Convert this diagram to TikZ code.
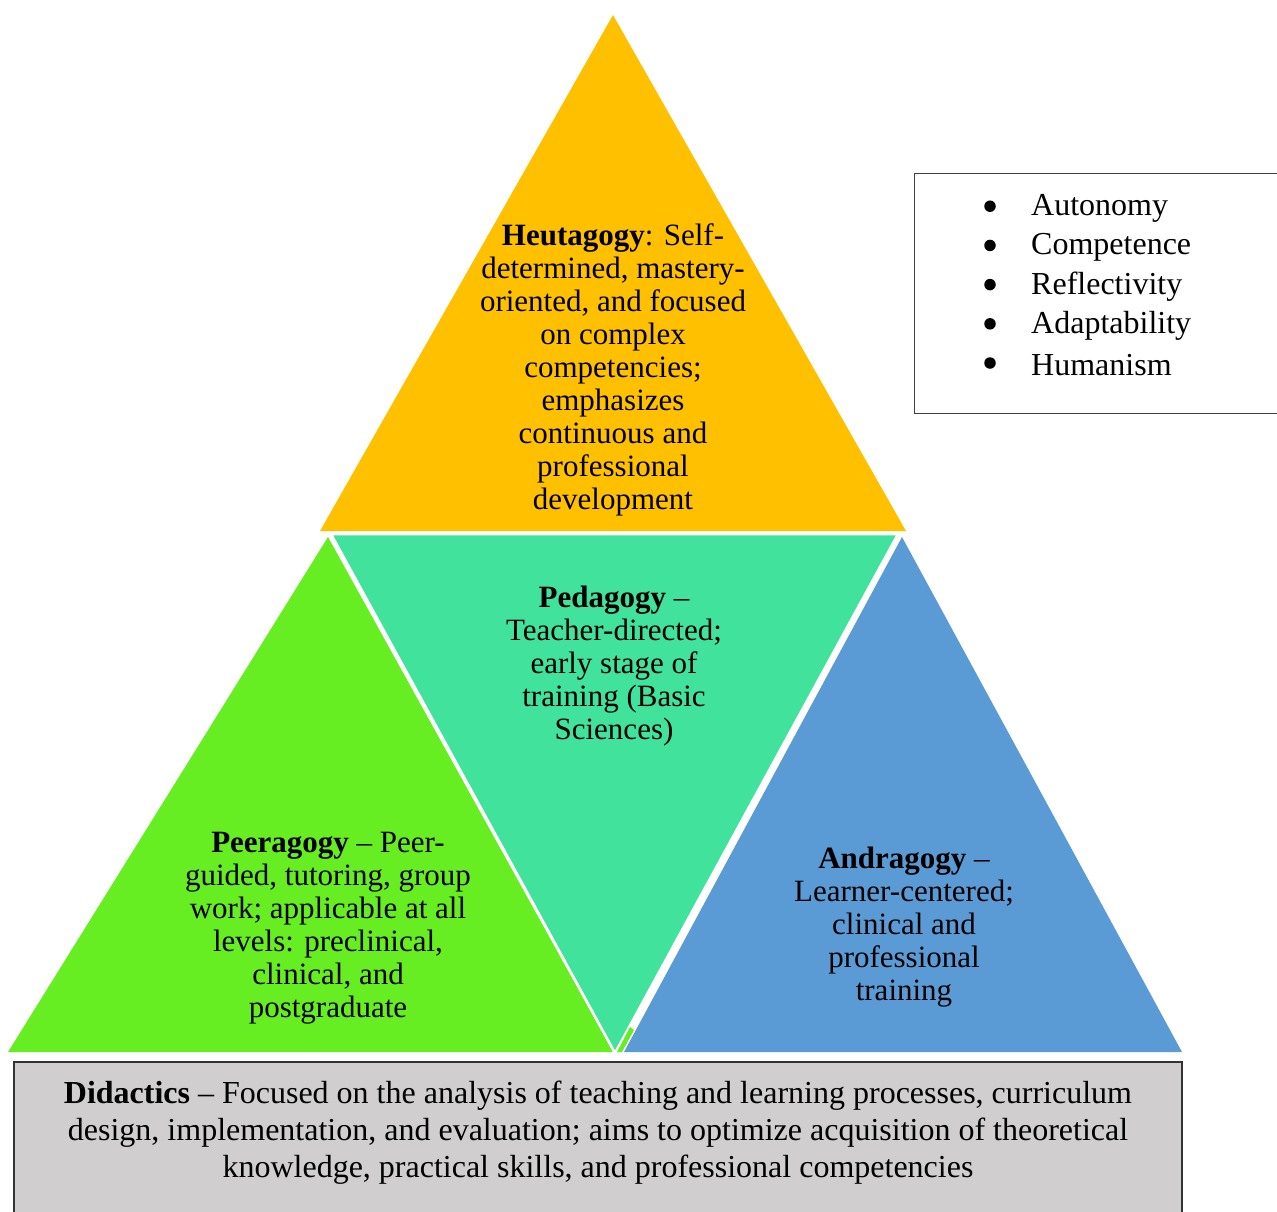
\documentclass[tikz,border=0pt]{standalone}
\usepackage{fontspec}
\setmainfont{Liberation Serif}
\definecolor{heutc}{HTML}{FFC000}
\definecolor{pedc}{HTML}{41E29C}
\definecolor{peerc}{HTML}{66EE22}
\definecolor{andrc}{HTML}{5B9BD5}
\definecolor{didc}{HTML}{D0CECE}
\begin{document}
\begin{tikzpicture}[x=1pt,y=-1pt,
  tri/.style={line width=2.5pt,draw=white,line join=miter},
  body/.style={align=center,inner sep=0pt,font=\fontsize{31}{33}\selectfont},
  listitem/.style={anchor=west,inner sep=0pt,font=\fontsize{32}{39}\selectfont},
  dot/.style={circle,fill=black,inner sep=0pt,minimum size=11.5pt}]
\useasboundingbox (0,0) rectangle (1277,1211);
\begin{scope}
\clip (0,0) rectangle (1277,1211);
% list box on the right
\draw[line width=1pt,draw=black!75,fill=white] (914,173) rectangle (1290,413);
% didactics base
\draw[line width=1.2pt,draw=black!80,fill=didc] (14,1062) rectangle (1182,1240);
\end{scope}
% four triangles
\fill[heutc] (613,15) -- (906,531) -- (320,531) -- cycle;
\fill[peerc] (328,537) -- (613,1052) -- (8,1052) -- cycle;
\fill[andrc] (902,537) -- (1182,1052) -- (624,1052) -- cycle;
\filldraw[tri,fill=pedc] (331,534) -- (898,534) -- (615,1053) -- cycle;
\fill[peerc] (617,1052) -- (630,1027) -- (634,1030) -- (622,1052) -- cycle;
% labels
\node[body] (heut) at (613,370) {\textbf{Heutagogy}: Self-\\determined, mastery-\\oriented, and focused\\on complex\\competencies;\\emphasizes\\continuous and\\professional\\development};
\node[body] (ped) at (614,666) {\textbf{Pedagogy} --\\Teacher-directed;\\early stage of\\training (Basic\\Sciences)};
\node[body] (peer) at (328,928) {\textbf{Peeragogy} -- Peer-\\guided, tutoring, group\\work; applicable at all\\levels: preclinical,\\clinical, and\\postgraduate};
\node[body] (andr) at (904,927) {\textbf{Andragogy} --\\Learner-centered;\\clinical and\\professional\\training};
\node[body,font=\fontsize{32}{37}\selectfont] (did) at (598,1133) {\textbf{Didactics} -- Focused on the analysis of teaching and learning processes, curriculum\\design, implementation, and evaluation; aims to optimize acquisition of theoretical\\knowledge, practical skills, and professional competencies};
% bullet list
\foreach \t [count=\i] in {Autonomy,Competence,Reflectivity,Adaptability,Humanism}{
  \node[dot] (b\i) at (990,{167+39.2*\i}) {};
  \node[listitem] (l\i) at (1031,{169+39.2*\i}) {\t};
}
\end{tikzpicture}
\end{document}
